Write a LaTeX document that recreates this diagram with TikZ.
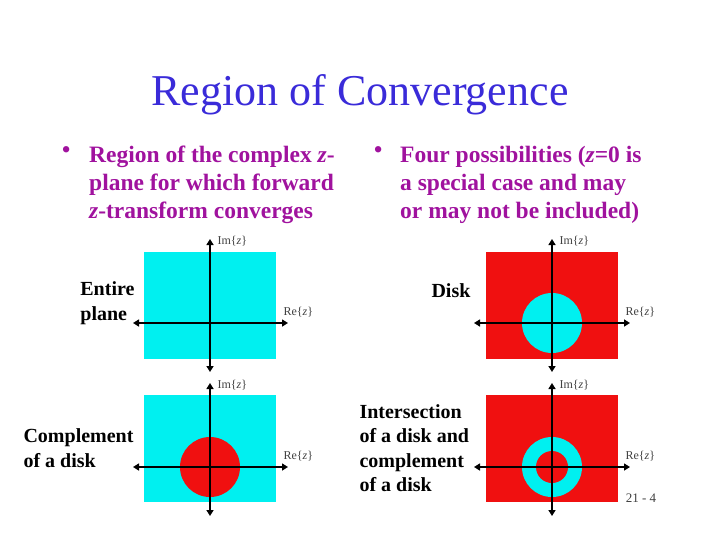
\documentclass[tikz,border=0pt]{standalone}
\usepackage{fontspec}
\setmainfont{Liberation Serif}
\usetikzlibrary{arrows.meta}
\definecolor{ttl}{HTML}{3A2BD9}
\definecolor{bul}{HTML}{A0129E}
\definecolor{cy}{HTML}{00F0F0}
\definecolor{rd}{HTML}{F01010}
\begin{document}
\begin{tikzpicture}[x=1pt,y=-1pt,
  ax/.style={line width=2.6pt,{Triangle[length=6pt,width=7pt]}-{Triangle[length=6pt,width=7pt]}},
  axl/.style={font=\fontsize{12}{12}\selectfont, anchor=west, text=black!75},
  lab/.style={font=\bfseries\fontsize{20}{24.5}\selectfont, align=left},
  bt/.style={font=\bfseries\fontsize{23.5}{28}\selectfont, text=bul, align=left, anchor=north west, inner sep=0pt}]
\useasboundingbox (0,0) rectangle (720,539);
\node (title) [text=ttl, font=\fontsize{44}{44}\selectfont] at (360,95) {Region of Convergence};
\node (b1) [bt] at (62,146) {\textbullet};
\node (t1) [bt] at (89,146) {Region of the complex \textit{z}-\\plane for which forward\\\textit{z}-transform converges};
\node (b2) [bt] at (374,146) {\textbullet};
\node (t2) [bt] at (400,146) {Four possibilities (\textit{z}=0 is\\a special case and may\\or may not be included)};
% top-left
\fill[cy] (144,252) rectangle (276,359);
\coordinate (l1a) at (133,323); \coordinate (l1b) at (288,323);
\coordinate (v1a) at (210,372); \coordinate (v1b) at (210,239);
\draw[ax] (l1a) -- (l1b); \draw[ax] (v1a) -- (v1b);
\node (im1) [axl] at (214,241) {Im\{\textit{z}\}};
\node (re1) [axl] at (280,312) {Re\{\textit{z}\}};
\node (lab1) [lab, anchor=east] at (138,303) {Entire\\plane};
% bottom-left
\fill[cy] (144,395) rectangle (276,502);
\fill[rd] (210,467) circle (30);
\coordinate (l2a) at (133,467); \coordinate (l2b) at (288,467);
\coordinate (v2a) at (210,516); \coordinate (v2b) at (210,383);
\draw[ax] (l2a) -- (l2b); \draw[ax] (v2a) -- (v2b);
\node (im2) [axl] at (214,385) {Im\{\textit{z}\}};
\node (re2) [axl] at (280,456) {Re\{\textit{z}\}};
\node (lab2) [lab, anchor=west] at (20,448) {Complement\\of a disk};
% top-right
\fill[rd] (486,252) rectangle (618,359);
\fill[cy] (552,323) circle (30);
\coordinate (l3a) at (474,323); \coordinate (l3b) at (630,323);
\coordinate (v3a) at (552,372); \coordinate (v3b) at (552,239);
\draw[ax] (l3a) -- (l3b); \draw[ax] (v3a) -- (v3b);
\node (im3) [axl] at (556,241) {Im\{\textit{z}\}};
\node (re3) [axl] at (622,312) {Re\{\textit{z}\}};
\node (lab3) [lab, anchor=west] at (428,291) {Disk};
% bottom-right
\fill[rd] (486,395) rectangle (618,502);
\fill[cy] (552,467) circle (30);
\fill[rd] (552,467) circle (16);
\coordinate (l4a) at (474,467); \coordinate (l4b) at (630,467);
\coordinate (v4a) at (552,516); \coordinate (v4b) at (552,383);
\draw[ax] (l4a) -- (l4b); \draw[ax] (v4a) -- (v4b);
\node (im4) [axl] at (556,385) {Im\{\textit{z}\}};
\node (re4) [axl] at (622,456) {Re\{\textit{z}\}};
\node (lab4) [lab, anchor=west] at (356,448) {Intersection\\of a disk and\\complement\\of a disk};
\node (pg) [font=\fontsize{13}{13}\selectfont, text=black!75] at (641,498) {21 - 4};
\end{tikzpicture}
\end{document}
